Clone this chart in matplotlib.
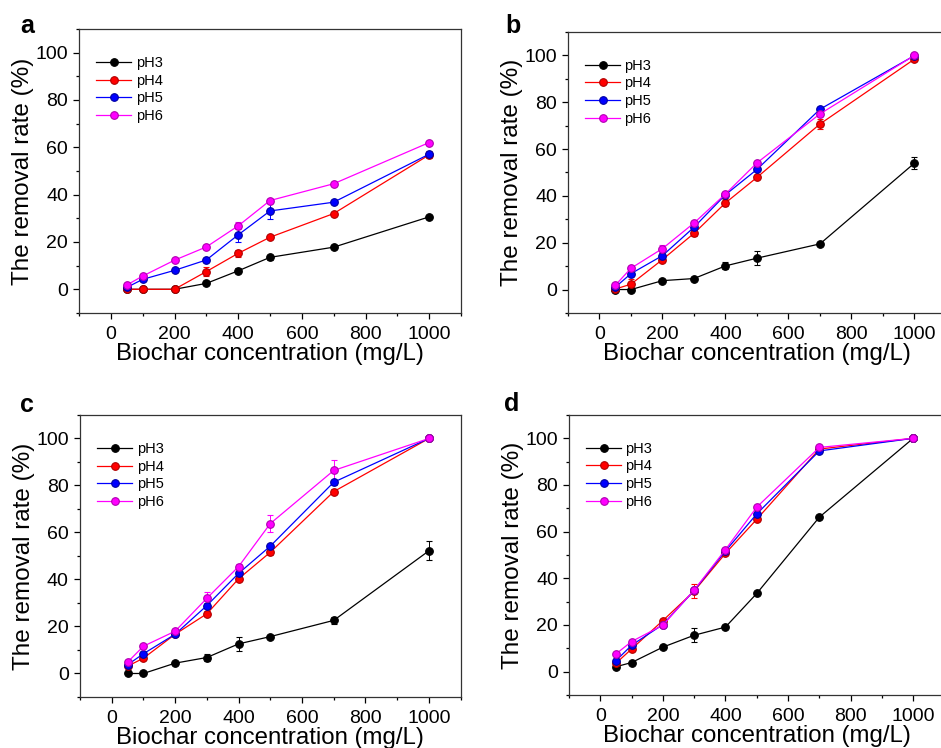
import numpy as np
import matplotlib
matplotlib.use("Agg")
import matplotlib.pyplot as plt
from matplotlib.ticker import MultipleLocator
from matplotlib.lines import Line2D

plt.rcParams['font.family'] = ['Liberation Sans', 'DejaVu Sans']

conc = [50, 100, 200, 300, 400, 500, 700, 1000]
labels = ['pH3', 'pH4', 'pH5', 'pH6']
colors = ['#000000', '#ff0000', '#0000ff', '#ff00ff']
edge_colors = ['#000000', '#b00000', '#0000a0', '#b000b0']

# removal rate (%) for each panel, rows pH3..pH6
rate_a = [[0, 0, 0, 2.5, 7.8, 13.5, 17.8, 30.6],
          [0, 0, 0, 7.5, 15.2, 22.0, 32.0, 56.8],
          [0.8, 4.2, 8.0, 12.4, 23.0, 33.1, 36.8, 57.1],
          [1.8, 5.6, 12.3, 17.9, 26.8, 37.5, 44.6, 62.0]]
err_a = [[0, 0, 0, 0.8, 1.0, 1.2, 0.8, 0.8],
         [0, 0, 0, 2.0, 1.5, 0.8, 0.8, 1.5],
         [0.5, 0.6, 0.5, 0.8, 3.0, 3.5, 0.8, 1.0],
         [0.5, 0.6, 0.5, 0.8, 1.5, 0.8, 0.8, 0.8]]

rate_b = [[0, 0, 3.8, 4.7, 10.1, 13.4, 19.5, 54.0],
          [0.2, 2.3, 12.8, 24.0, 37.0, 47.9, 70.7, 98.4],
          [1.0, 6.8, 14.5, 26.6, 40.5, 51.3, 77.0, 99.9],
          [1.8, 9.1, 17.5, 28.4, 40.8, 54.1, 75.0, 100.0]]
err_b = [[0.5, 0.5, 0.6, 0.6, 1.5, 3.0, 0.8, 2.5],
         [0.5, 2.0, 1.0, 1.0, 1.5, 0.8, 2.0, 0.8],
         [0.5, 0.8, 1.0, 1.0, 1.0, 0.8, 0.8, 0.5],
         [0.5, 0.8, 1.5, 1.0, 1.0, 0.8, 0.8, 0.5]]

rate_c = [[0, 0, 4.4, 6.8, 12.6, 15.7, 22.6, 52.2],
          [3.1, 6.5, 16.7, 25.4, 40.3, 51.6, 77.4, 100.0],
          [3.7, 8.4, 16.7, 28.9, 42.6, 54.2, 81.4, 100.0],
          [4.8, 11.6, 18.0, 32.0, 45.5, 63.8, 86.4, 100.0]]
err_c = [[0.5, 0.5, 0.6, 1.5, 3.0, 0.8, 1.5, 4.0],
         [0.8, 0.8, 0.8, 1.0, 1.0, 1.0, 1.0, 0.5],
         [0.8, 0.8, 0.8, 1.0, 1.0, 1.0, 1.0, 0.5],
         [0.8, 0.8, 0.8, 2.5, 1.0, 3.5, 4.5, 0.5]]

rate_d = [[2.1, 3.9, 10.5, 15.6, 19.1, 33.5, 66.2, 100.0],
          [3.6, 9.7, 21.9, 34.5, 50.7, 65.3, 95.4, 100.0],
          [4.7, 11.3, 20.2, 34.8, 51.7, 67.6, 94.6, 100.0],
          [7.6, 12.9, 19.9, 35.0, 52.3, 70.5, 96.1, 100.0]]
err_d = [[0.8, 0.6, 0.8, 3.0, 0.8, 0.8, 0.8, 0.5],
         [0.6, 0.8, 0.8, 3.0, 0.8, 0.8, 0.8, 0.5],
         [0.6, 0.8, 0.8, 1.0, 0.8, 0.8, 0.8, 0.5],
         [0.6, 0.8, 0.8, 1.0, 0.8, 0.8, 0.8, 0.5]]

# axes rect (figure fraction) and panel-letter centre (pixels)
panels = [('a', rate_a, err_a, [0.0840, 0.5816, 0.4059, 0.3797], (27, 26)),
          ('b', rate_b, err_b, [0.6036, 0.5816, 0.4017, 0.3757], (513, 26)),
          ('c', rate_c, err_c, [0.0850, 0.0682, 0.4045, 0.3770], (27, 405)),
          ('d', rate_d, err_d, [0.6047, 0.0709, 0.3990, 0.3743], (512, 404))]

W, H = 941, 748
fig = plt.figure(figsize=(W / 100, H / 100), dpi=100)

for letter, rates, errs, pos, lpos in panels:
    ax = fig.add_axes(pos)
    handles = []
    for r, e, c, ec in zip(rates, errs, colors, edge_colors):
        ax.errorbar(conc, r, yerr=e, color=c, lw=0.9, marker='o', ms=5.5,
                    mfc=c, mec=ec, mew=0.8, ecolor=c, elinewidth=0.7,
                    capsize=2, capthick=0.7)
        handles.append(Line2D([], [], color=c, lw=0.9, marker='o', ms=5.5,
                              mfc=c, mec=ec, mew=0.8))
    ax.set_xlim(-100, 1100)
    ax.set_ylim(-10, 110)
    ax.xaxis.set_major_locator(MultipleLocator(200))
    ax.xaxis.set_minor_locator(MultipleLocator(100))
    ax.yaxis.set_minor_locator(MultipleLocator(10))
    ax.set_yticks([0, 20, 40, 60, 80, 100])
    ax.tick_params(which='both', direction='out', top=False, right=False,
                   labelsize=14, width=0.9)
    ax.tick_params(which='major', length=4.5)
    ax.tick_params(axis='x', which='major', pad=5)
    ax.tick_params(which='minor', length=2.5)
    for s in ax.spines.values():
        s.set_linewidth(0.9)
        s.set_color('#333333')
    ax.set_xlabel('Biochar concentration (mg/L)', fontsize=17.3, labelpad=0)
    ax.set_ylabel('The removal rate (%)', fontsize=17.5, labelpad=1)
    ax.legend(handles, labels, loc='upper left', bbox_to_anchor=(0.03, 0.925),
              frameon=False, fontsize=10.5, handlelength=2.4,
              handletextpad=0.3, labelspacing=0.25, borderaxespad=0)
    fig.text(lpos[0] / W, 1 - lpos[1] / H, letter, fontsize=18,
             fontweight='bold', ha='center', va='center')

fig.savefig('out.png', dpi=100)
